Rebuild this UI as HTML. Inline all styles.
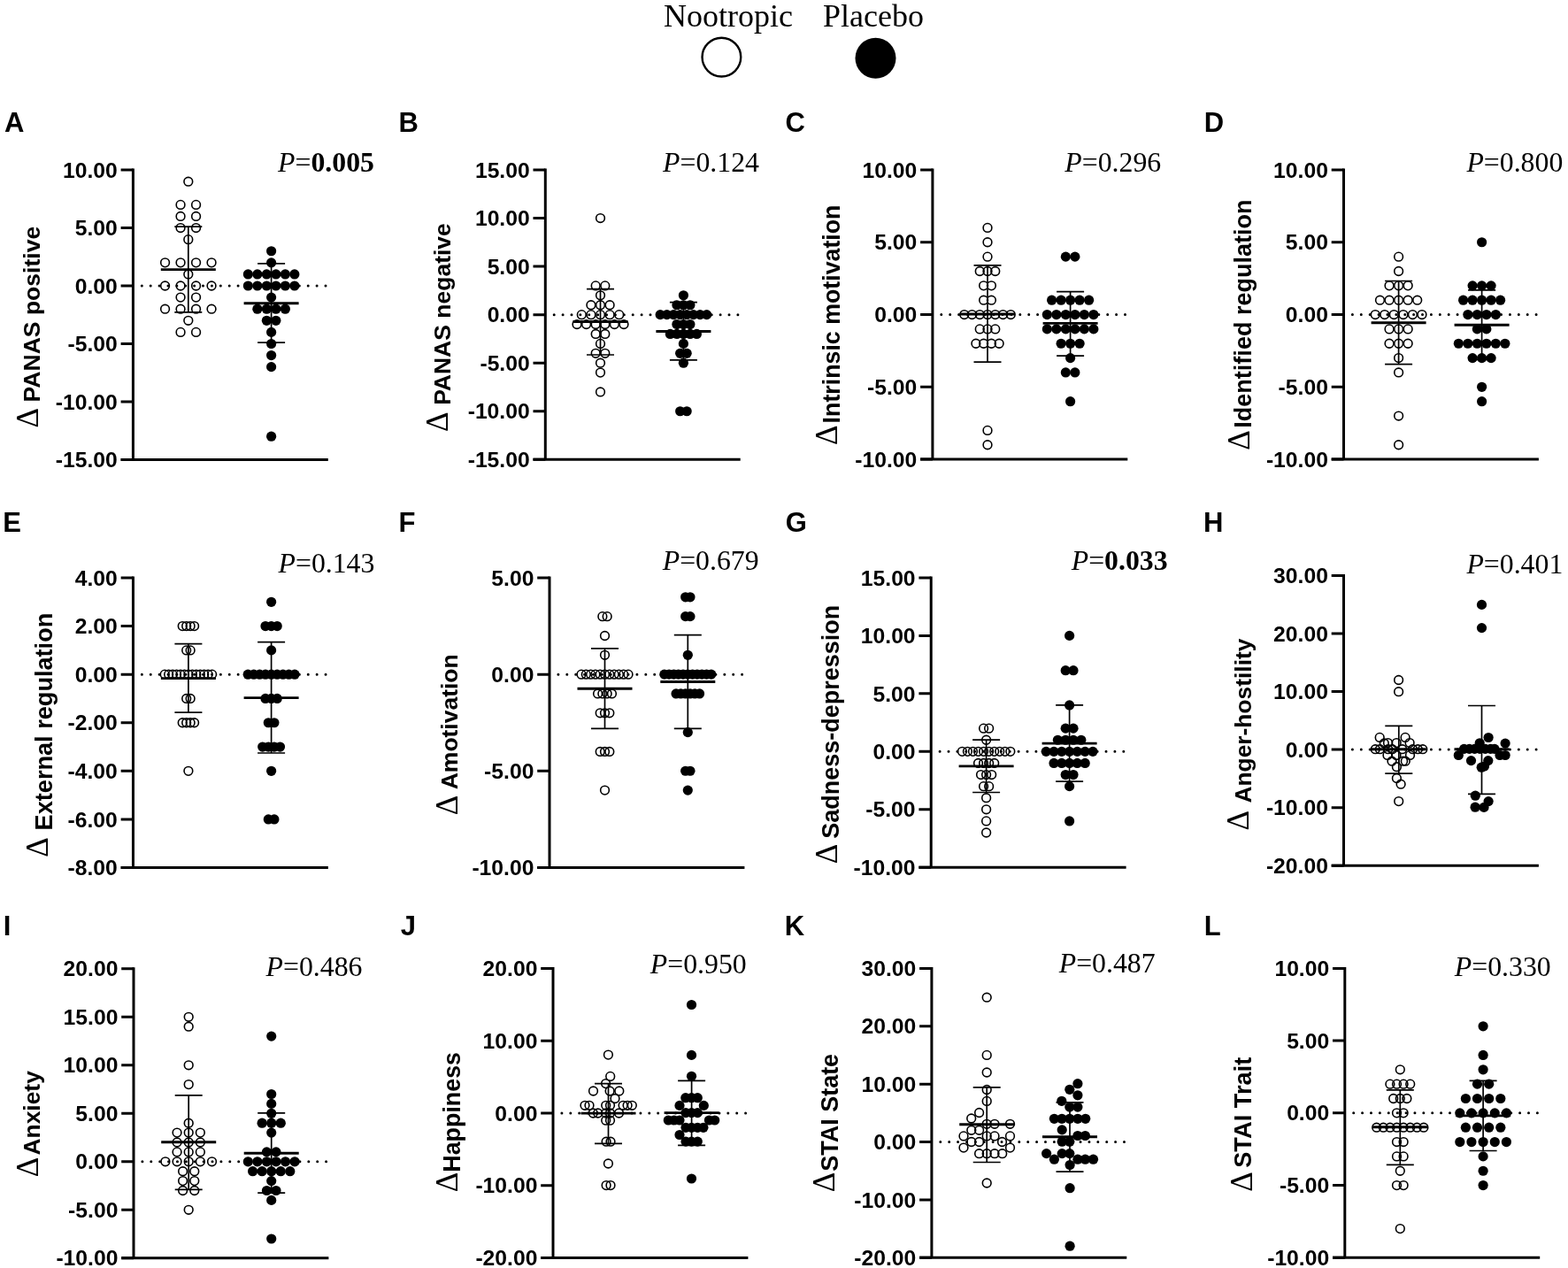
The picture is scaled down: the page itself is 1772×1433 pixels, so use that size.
<!DOCTYPE html><html><head><meta charset="utf-8"><style>html,body{margin:0;padding:0;background:#fff;}svg{display:block;}.tk{font-family:"Liberation Sans",Arial,sans-serif;font-weight:bold;font-size:24.7px;}.lt{font-family:"Liberation Sans",Arial,sans-serif;font-weight:bold;font-size:31px;}.yl{font-family:"Liberation Sans",Arial,sans-serif;font-weight:bold;font-size:27px;}.dl{font-family:"Liberation Serif","Times New Roman",serif;font-weight:normal;font-size:35px;}.pv{font-family:"Liberation Serif","Times New Roman",serif;font-size:31.8px;}.lg{font-family:"Liberation Serif","Times New Roman",serif;font-size:36px;}</style></head><body>
<svg width="1772" height="1433" viewBox="0 0 1772 1433" xmlns="http://www.w3.org/2000/svg">
<rect width="1772" height="1433" fill="#fff"/>
<text class="lg" x="750.0" y="30.1">Nootropic</text>
<text class="lg" x="930.0" y="29.7">Placebo</text>
<circle cx="815.4" cy="64.6" r="21.85" fill="#fff" stroke="#000" stroke-width="2.4"/>
<circle cx="989.5" cy="65.8" r="23" fill="#000"/>
<g>
<text class="lt" x="5.0" y="148.6">A</text>
<path d="M150.40,190.60V519.40M136.60,519.40H370.80" fill="none" stroke="#000" stroke-width="3.0" stroke-linecap="butt"/>
<path d="M136.60,192.10H150.40M136.60,257.56H150.40M136.60,323.02H150.40M136.60,388.48H150.40M136.60,453.94H150.40M136.60,519.40H150.40" stroke="#000" stroke-width="3.0"/>
<text class="tk" x="132.8" y="200.7" text-anchor="end">10.00</text>
<text class="tk" x="132.8" y="266.2" text-anchor="end">5.00</text>
<text class="tk" x="132.8" y="331.6" text-anchor="end">0.00</text>
<text class="tk" x="132.8" y="397.1" text-anchor="end">-5.00</text>
<text class="tk" x="132.8" y="462.5" text-anchor="end">-10.00</text>
<text class="tk" x="132.8" y="528.0" text-anchor="end">-15.00</text>
<line x1="160.30" y1="323.02" x2="370.80" y2="323.02" stroke="#000" stroke-width="3" stroke-linecap="round" stroke-dasharray="0 9.89"/>
<circle cx="212.80" cy="205.19" r="4.85" fill="none" stroke="#000" stroke-width="1.6"/>
<circle cx="204.05" cy="231.38" r="4.85" fill="none" stroke="#000" stroke-width="1.6"/>
<circle cx="221.55" cy="231.38" r="4.85" fill="none" stroke="#000" stroke-width="1.6"/>
<circle cx="204.05" cy="244.47" r="4.85" fill="none" stroke="#000" stroke-width="1.6"/>
<circle cx="221.55" cy="244.47" r="4.85" fill="none" stroke="#000" stroke-width="1.6"/>
<circle cx="204.05" cy="257.56" r="4.85" fill="none" stroke="#000" stroke-width="1.6"/>
<circle cx="221.55" cy="257.56" r="4.85" fill="none" stroke="#000" stroke-width="1.6"/>
<circle cx="212.80" cy="270.65" r="4.85" fill="none" stroke="#000" stroke-width="1.6"/>
<circle cx="186.55" cy="296.84" r="4.85" fill="none" stroke="#000" stroke-width="1.6"/>
<circle cx="204.05" cy="296.84" r="4.85" fill="none" stroke="#000" stroke-width="1.6"/>
<circle cx="221.55" cy="296.84" r="4.85" fill="none" stroke="#000" stroke-width="1.6"/>
<circle cx="239.05" cy="296.84" r="4.85" fill="none" stroke="#000" stroke-width="1.6"/>
<circle cx="212.80" cy="309.93" r="4.85" fill="none" stroke="#000" stroke-width="1.6"/>
<circle cx="186.55" cy="323.02" r="4.85" fill="none" stroke="#000" stroke-width="1.6"/>
<circle cx="204.05" cy="323.02" r="4.85" fill="none" stroke="#000" stroke-width="1.6"/>
<circle cx="221.55" cy="323.02" r="4.85" fill="none" stroke="#000" stroke-width="1.6"/>
<circle cx="239.05" cy="323.02" r="4.85" fill="none" stroke="#000" stroke-width="1.6"/>
<circle cx="204.05" cy="336.11" r="4.85" fill="none" stroke="#000" stroke-width="1.6"/>
<circle cx="221.55" cy="336.11" r="4.85" fill="none" stroke="#000" stroke-width="1.6"/>
<circle cx="186.55" cy="349.20" r="4.85" fill="none" stroke="#000" stroke-width="1.6"/>
<circle cx="204.05" cy="349.20" r="4.85" fill="none" stroke="#000" stroke-width="1.6"/>
<circle cx="221.55" cy="349.20" r="4.85" fill="none" stroke="#000" stroke-width="1.6"/>
<circle cx="239.05" cy="349.20" r="4.85" fill="none" stroke="#000" stroke-width="1.6"/>
<circle cx="212.80" cy="362.30" r="4.85" fill="none" stroke="#000" stroke-width="1.6"/>
<circle cx="204.05" cy="375.39" r="4.85" fill="none" stroke="#000" stroke-width="1.6"/>
<circle cx="221.55" cy="375.39" r="4.85" fill="none" stroke="#000" stroke-width="1.6"/>
<path d="M212.80,256.10V352.80M197.30,256.10h31.0M197.30,352.80h31.0" stroke="#000" stroke-width="1.7" fill="none"/>
<path d="M181.80,304.60h62.0" stroke="#000" stroke-width="2.9"/>
<circle cx="306.60" cy="283.74" r="5.6" fill="#000"/>
<circle cx="306.60" cy="296.84" r="5.6" fill="#000"/>
<circle cx="280.35" cy="309.93" r="5.6" fill="#000"/>
<circle cx="290.85" cy="309.93" r="5.6" fill="#000"/>
<circle cx="301.35" cy="309.93" r="5.6" fill="#000"/>
<circle cx="311.85" cy="309.93" r="5.6" fill="#000"/>
<circle cx="322.35" cy="309.93" r="5.6" fill="#000"/>
<circle cx="332.85" cy="309.93" r="5.6" fill="#000"/>
<circle cx="280.35" cy="323.02" r="5.6" fill="#000"/>
<circle cx="290.85" cy="323.02" r="5.6" fill="#000"/>
<circle cx="301.35" cy="323.02" r="5.6" fill="#000"/>
<circle cx="311.85" cy="323.02" r="5.6" fill="#000"/>
<circle cx="322.35" cy="323.02" r="5.6" fill="#000"/>
<circle cx="332.85" cy="323.02" r="5.6" fill="#000"/>
<circle cx="306.60" cy="336.11" r="5.6" fill="#000"/>
<circle cx="290.85" cy="349.20" r="5.6" fill="#000"/>
<circle cx="301.35" cy="349.20" r="5.6" fill="#000"/>
<circle cx="311.85" cy="349.20" r="5.6" fill="#000"/>
<circle cx="322.35" cy="349.20" r="5.6" fill="#000"/>
<circle cx="301.35" cy="362.30" r="5.6" fill="#000"/>
<circle cx="311.85" cy="362.30" r="5.6" fill="#000"/>
<circle cx="306.60" cy="375.39" r="5.6" fill="#000"/>
<circle cx="306.60" cy="388.48" r="5.6" fill="#000"/>
<circle cx="306.60" cy="401.57" r="5.6" fill="#000"/>
<circle cx="306.60" cy="414.66" r="5.6" fill="#000"/>
<circle cx="306.60" cy="493.22" r="5.6" fill="#000"/>
<path d="M306.60,297.80V387.20M291.10,297.80h31.0M291.10,387.20h31.0" stroke="#000" stroke-width="1.7" fill="none"/>
<path d="M275.60,342.70h62.0" stroke="#000" stroke-width="2.9"/>
<text class="dl" transform="translate(42.6,483.43) rotate(-90)">Δ</text>
<text class="yl" style="font-size:26.54px" transform="translate(44.9,454.38) rotate(-90)">PANAS positive</text>
<text class="pv" x="314.1" y="193.7"><tspan font-style="italic">P</tspan>=<tspan font-weight="bold">0.005</tspan></text>
</g>
<g>
<text class="lt" x="450.6" y="148.6">B</text>
<path d="M616.30,190.50V519.30M602.50,519.30H836.70" fill="none" stroke="#000" stroke-width="3.0" stroke-linecap="butt"/>
<path d="M602.50,192.00H616.30M602.50,246.55H616.30M602.50,301.10H616.30M602.50,355.65H616.30M602.50,410.20H616.30M602.50,464.75H616.30M602.50,519.30H616.30" stroke="#000" stroke-width="3.0"/>
<text class="tk" x="598.7" y="200.6" text-anchor="end">15.00</text>
<text class="tk" x="598.7" y="255.1" text-anchor="end">10.00</text>
<text class="tk" x="598.7" y="309.7" text-anchor="end">5.00</text>
<text class="tk" x="598.7" y="364.2" text-anchor="end">0.00</text>
<text class="tk" x="598.7" y="418.8" text-anchor="end">-5.00</text>
<text class="tk" x="598.7" y="473.3" text-anchor="end">-10.00</text>
<text class="tk" x="598.7" y="527.9" text-anchor="end">-15.00</text>
<line x1="626.20" y1="355.65" x2="836.70" y2="355.65" stroke="#000" stroke-width="3" stroke-linecap="round" stroke-dasharray="0 9.89"/>
<circle cx="678.50" cy="246.55" r="4.85" fill="none" stroke="#000" stroke-width="1.6"/>
<circle cx="673.20" cy="322.92" r="4.85" fill="none" stroke="#000" stroke-width="1.6"/>
<circle cx="683.80" cy="322.92" r="4.85" fill="none" stroke="#000" stroke-width="1.6"/>
<circle cx="678.50" cy="333.83" r="4.85" fill="none" stroke="#000" stroke-width="1.6"/>
<circle cx="667.90" cy="344.74" r="4.85" fill="none" stroke="#000" stroke-width="1.6"/>
<circle cx="678.50" cy="344.74" r="4.85" fill="none" stroke="#000" stroke-width="1.6"/>
<circle cx="689.10" cy="344.74" r="4.85" fill="none" stroke="#000" stroke-width="1.6"/>
<circle cx="657.30" cy="355.65" r="4.85" fill="none" stroke="#000" stroke-width="1.6"/>
<circle cx="667.90" cy="355.65" r="4.85" fill="none" stroke="#000" stroke-width="1.6"/>
<circle cx="678.50" cy="355.65" r="4.85" fill="none" stroke="#000" stroke-width="1.6"/>
<circle cx="689.10" cy="355.65" r="4.85" fill="none" stroke="#000" stroke-width="1.6"/>
<circle cx="699.70" cy="355.65" r="4.85" fill="none" stroke="#000" stroke-width="1.6"/>
<circle cx="652.00" cy="366.56" r="4.85" fill="none" stroke="#000" stroke-width="1.6"/>
<circle cx="662.60" cy="366.56" r="4.85" fill="none" stroke="#000" stroke-width="1.6"/>
<circle cx="673.20" cy="366.56" r="4.85" fill="none" stroke="#000" stroke-width="1.6"/>
<circle cx="683.80" cy="366.56" r="4.85" fill="none" stroke="#000" stroke-width="1.6"/>
<circle cx="694.40" cy="366.56" r="4.85" fill="none" stroke="#000" stroke-width="1.6"/>
<circle cx="705.00" cy="366.56" r="4.85" fill="none" stroke="#000" stroke-width="1.6"/>
<circle cx="673.20" cy="377.47" r="4.85" fill="none" stroke="#000" stroke-width="1.6"/>
<circle cx="683.80" cy="377.47" r="4.85" fill="none" stroke="#000" stroke-width="1.6"/>
<circle cx="678.50" cy="388.38" r="4.85" fill="none" stroke="#000" stroke-width="1.6"/>
<circle cx="673.20" cy="399.29" r="4.85" fill="none" stroke="#000" stroke-width="1.6"/>
<circle cx="683.80" cy="399.29" r="4.85" fill="none" stroke="#000" stroke-width="1.6"/>
<circle cx="678.50" cy="410.20" r="4.85" fill="none" stroke="#000" stroke-width="1.6"/>
<circle cx="678.50" cy="421.11" r="4.85" fill="none" stroke="#000" stroke-width="1.6"/>
<circle cx="678.50" cy="442.93" r="4.85" fill="none" stroke="#000" stroke-width="1.6"/>
<path d="M678.50,326.70V401.00M663.00,326.70h31.0M663.00,401.00h31.0" stroke="#000" stroke-width="1.7" fill="none"/>
<path d="M647.50,363.50h62.0" stroke="#000" stroke-width="2.9"/>
<circle cx="772.40" cy="333.83" r="5.6" fill="#000"/>
<circle cx="764.90" cy="344.74" r="5.6" fill="#000"/>
<circle cx="772.40" cy="344.74" r="5.6" fill="#000"/>
<circle cx="779.90" cy="344.74" r="5.6" fill="#000"/>
<circle cx="746.15" cy="355.65" r="5.6" fill="#000"/>
<circle cx="753.65" cy="355.65" r="5.6" fill="#000"/>
<circle cx="761.15" cy="355.65" r="5.6" fill="#000"/>
<circle cx="768.65" cy="355.65" r="5.6" fill="#000"/>
<circle cx="776.15" cy="355.65" r="5.6" fill="#000"/>
<circle cx="783.65" cy="355.65" r="5.6" fill="#000"/>
<circle cx="791.15" cy="355.65" r="5.6" fill="#000"/>
<circle cx="798.65" cy="355.65" r="5.6" fill="#000"/>
<circle cx="764.90" cy="366.56" r="5.6" fill="#000"/>
<circle cx="772.40" cy="366.56" r="5.6" fill="#000"/>
<circle cx="779.90" cy="366.56" r="5.6" fill="#000"/>
<circle cx="757.40" cy="377.47" r="5.6" fill="#000"/>
<circle cx="764.90" cy="377.47" r="5.6" fill="#000"/>
<circle cx="772.40" cy="377.47" r="5.6" fill="#000"/>
<circle cx="779.90" cy="377.47" r="5.6" fill="#000"/>
<circle cx="787.40" cy="377.47" r="5.6" fill="#000"/>
<circle cx="772.40" cy="388.38" r="5.6" fill="#000"/>
<circle cx="768.65" cy="399.29" r="5.6" fill="#000"/>
<circle cx="776.15" cy="399.29" r="5.6" fill="#000"/>
<circle cx="772.40" cy="410.20" r="5.6" fill="#000"/>
<circle cx="768.65" cy="464.75" r="5.6" fill="#000"/>
<circle cx="776.15" cy="464.75" r="5.6" fill="#000"/>
<path d="M772.40,341.70V406.80M756.90,341.70h31.0M756.90,406.80h31.0" stroke="#000" stroke-width="1.7" fill="none"/>
<path d="M741.40,374.50h62.0" stroke="#000" stroke-width="2.9"/>
<text class="dl" transform="translate(506.4,488.03) rotate(-90)">Δ</text>
<text class="yl" style="font-size:26.51px" transform="translate(509.0,457.87) rotate(-90)">PANAS negative</text>
<text class="pv" x="749.1" y="193.6"><tspan font-style="italic">P</tspan>=<tspan>0.124</tspan></text>
</g>
<g>
<text class="lt" x="887.5" y="148.6">C</text>
<path d="M1053.90,190.50V519.10M1040.10,519.10H1274.30" fill="none" stroke="#000" stroke-width="3.0" stroke-linecap="butt"/>
<path d="M1040.10,192.00H1053.90M1040.10,273.77H1053.90M1040.10,355.55H1053.90M1040.10,437.33H1053.90M1040.10,519.10H1053.90" stroke="#000" stroke-width="3.0"/>
<text class="tk" x="1036.3" y="200.6" text-anchor="end">10.00</text>
<text class="tk" x="1036.3" y="282.4" text-anchor="end">5.00</text>
<text class="tk" x="1036.3" y="364.2" text-anchor="end">0.00</text>
<text class="tk" x="1036.3" y="445.9" text-anchor="end">-5.00</text>
<text class="tk" x="1036.3" y="527.7" text-anchor="end">-10.00</text>
<line x1="1063.80" y1="355.55" x2="1274.30" y2="355.55" stroke="#000" stroke-width="3" stroke-linecap="round" stroke-dasharray="0 9.89"/>
<circle cx="1116.00" cy="257.42" r="4.85" fill="none" stroke="#000" stroke-width="1.6"/>
<circle cx="1116.00" cy="273.77" r="4.85" fill="none" stroke="#000" stroke-width="1.6"/>
<circle cx="1116.00" cy="290.13" r="4.85" fill="none" stroke="#000" stroke-width="1.6"/>
<circle cx="1107.25" cy="306.49" r="4.85" fill="none" stroke="#000" stroke-width="1.6"/>
<circle cx="1116.00" cy="306.49" r="4.85" fill="none" stroke="#000" stroke-width="1.6"/>
<circle cx="1124.75" cy="306.49" r="4.85" fill="none" stroke="#000" stroke-width="1.6"/>
<circle cx="1111.62" cy="322.84" r="4.85" fill="none" stroke="#000" stroke-width="1.6"/>
<circle cx="1120.38" cy="322.84" r="4.85" fill="none" stroke="#000" stroke-width="1.6"/>
<circle cx="1111.62" cy="339.19" r="4.85" fill="none" stroke="#000" stroke-width="1.6"/>
<circle cx="1120.38" cy="339.19" r="4.85" fill="none" stroke="#000" stroke-width="1.6"/>
<circle cx="1089.75" cy="355.55" r="4.85" fill="none" stroke="#000" stroke-width="1.6"/>
<circle cx="1098.50" cy="355.55" r="4.85" fill="none" stroke="#000" stroke-width="1.6"/>
<circle cx="1107.25" cy="355.55" r="4.85" fill="none" stroke="#000" stroke-width="1.6"/>
<circle cx="1116.00" cy="355.55" r="4.85" fill="none" stroke="#000" stroke-width="1.6"/>
<circle cx="1124.75" cy="355.55" r="4.85" fill="none" stroke="#000" stroke-width="1.6"/>
<circle cx="1133.50" cy="355.55" r="4.85" fill="none" stroke="#000" stroke-width="1.6"/>
<circle cx="1142.25" cy="355.55" r="4.85" fill="none" stroke="#000" stroke-width="1.6"/>
<circle cx="1107.25" cy="371.90" r="4.85" fill="none" stroke="#000" stroke-width="1.6"/>
<circle cx="1116.00" cy="371.90" r="4.85" fill="none" stroke="#000" stroke-width="1.6"/>
<circle cx="1124.75" cy="371.90" r="4.85" fill="none" stroke="#000" stroke-width="1.6"/>
<circle cx="1102.88" cy="388.26" r="4.85" fill="none" stroke="#000" stroke-width="1.6"/>
<circle cx="1111.62" cy="388.26" r="4.85" fill="none" stroke="#000" stroke-width="1.6"/>
<circle cx="1120.38" cy="388.26" r="4.85" fill="none" stroke="#000" stroke-width="1.6"/>
<circle cx="1129.12" cy="388.26" r="4.85" fill="none" stroke="#000" stroke-width="1.6"/>
<circle cx="1116.00" cy="486.39" r="4.85" fill="none" stroke="#000" stroke-width="1.6"/>
<circle cx="1116.00" cy="502.75" r="4.85" fill="none" stroke="#000" stroke-width="1.6"/>
<path d="M1116.00,299.90V409.10M1100.50,299.90h31.0M1100.50,409.10h31.0" stroke="#000" stroke-width="1.7" fill="none"/>
<path d="M1085.00,355.00h62.0" stroke="#000" stroke-width="2.9"/>
<circle cx="1204.35" cy="290.13" r="5.6" fill="#000"/>
<circle cx="1214.85" cy="290.13" r="5.6" fill="#000"/>
<circle cx="1188.60" cy="339.19" r="5.6" fill="#000"/>
<circle cx="1199.10" cy="339.19" r="5.6" fill="#000"/>
<circle cx="1209.60" cy="339.19" r="5.6" fill="#000"/>
<circle cx="1220.10" cy="339.19" r="5.6" fill="#000"/>
<circle cx="1230.60" cy="339.19" r="5.6" fill="#000"/>
<circle cx="1183.35" cy="355.55" r="5.6" fill="#000"/>
<circle cx="1193.85" cy="355.55" r="5.6" fill="#000"/>
<circle cx="1204.35" cy="355.55" r="5.6" fill="#000"/>
<circle cx="1214.85" cy="355.55" r="5.6" fill="#000"/>
<circle cx="1225.35" cy="355.55" r="5.6" fill="#000"/>
<circle cx="1235.85" cy="355.55" r="5.6" fill="#000"/>
<circle cx="1183.35" cy="371.90" r="5.6" fill="#000"/>
<circle cx="1193.85" cy="371.90" r="5.6" fill="#000"/>
<circle cx="1204.35" cy="371.90" r="5.6" fill="#000"/>
<circle cx="1214.85" cy="371.90" r="5.6" fill="#000"/>
<circle cx="1225.35" cy="371.90" r="5.6" fill="#000"/>
<circle cx="1235.85" cy="371.90" r="5.6" fill="#000"/>
<circle cx="1199.10" cy="388.26" r="5.6" fill="#000"/>
<circle cx="1209.60" cy="388.26" r="5.6" fill="#000"/>
<circle cx="1220.10" cy="388.26" r="5.6" fill="#000"/>
<circle cx="1209.60" cy="404.62" r="5.6" fill="#000"/>
<circle cx="1204.35" cy="420.97" r="5.6" fill="#000"/>
<circle cx="1214.85" cy="420.97" r="5.6" fill="#000"/>
<circle cx="1209.60" cy="453.68" r="5.6" fill="#000"/>
<path d="M1209.60,329.70V402.10M1194.10,329.70h31.0M1194.10,402.10h31.0" stroke="#000" stroke-width="1.7" fill="none"/>
<path d="M1178.60,365.40h62.0" stroke="#000" stroke-width="2.9"/>
<text class="dl" transform="translate(946.3,502.93) rotate(-90)">Δ</text>
<text class="yl" style="font-size:26.77px" transform="translate(948.7,478.39) rotate(-90)">Intrinsic motivation</text>
<text class="pv" x="1203.3" y="193.7"><tspan font-style="italic">P</tspan>=<tspan>0.296</tspan></text>
</g>
<g>
<text class="lt" x="1360.7" y="148.6">D</text>
<path d="M1518.50,190.50V519.10M1504.70,519.10H1738.90" fill="none" stroke="#000" stroke-width="3.0" stroke-linecap="butt"/>
<path d="M1504.70,192.00H1518.50M1504.70,273.77H1518.50M1504.70,355.55H1518.50M1504.70,437.33H1518.50M1504.70,519.10H1518.50" stroke="#000" stroke-width="3.0"/>
<text class="tk" x="1500.9" y="200.6" text-anchor="end">10.00</text>
<text class="tk" x="1500.9" y="282.4" text-anchor="end">5.00</text>
<text class="tk" x="1500.9" y="364.2" text-anchor="end">0.00</text>
<text class="tk" x="1500.9" y="445.9" text-anchor="end">-5.00</text>
<text class="tk" x="1500.9" y="527.7" text-anchor="end">-10.00</text>
<line x1="1528.40" y1="355.55" x2="1738.90" y2="355.55" stroke="#000" stroke-width="3" stroke-linecap="round" stroke-dasharray="0 9.89"/>
<circle cx="1580.60" cy="290.13" r="4.85" fill="none" stroke="#000" stroke-width="1.6"/>
<circle cx="1580.60" cy="306.49" r="4.85" fill="none" stroke="#000" stroke-width="1.6"/>
<circle cx="1570.05" cy="322.84" r="4.85" fill="none" stroke="#000" stroke-width="1.6"/>
<circle cx="1580.60" cy="322.84" r="4.85" fill="none" stroke="#000" stroke-width="1.6"/>
<circle cx="1591.15" cy="322.84" r="4.85" fill="none" stroke="#000" stroke-width="1.6"/>
<circle cx="1559.50" cy="339.19" r="4.85" fill="none" stroke="#000" stroke-width="1.6"/>
<circle cx="1570.05" cy="339.19" r="4.85" fill="none" stroke="#000" stroke-width="1.6"/>
<circle cx="1580.60" cy="339.19" r="4.85" fill="none" stroke="#000" stroke-width="1.6"/>
<circle cx="1591.15" cy="339.19" r="4.85" fill="none" stroke="#000" stroke-width="1.6"/>
<circle cx="1601.70" cy="339.19" r="4.85" fill="none" stroke="#000" stroke-width="1.6"/>
<circle cx="1554.22" cy="355.55" r="4.85" fill="none" stroke="#000" stroke-width="1.6"/>
<circle cx="1564.77" cy="355.55" r="4.85" fill="none" stroke="#000" stroke-width="1.6"/>
<circle cx="1575.32" cy="355.55" r="4.85" fill="none" stroke="#000" stroke-width="1.6"/>
<circle cx="1585.88" cy="355.55" r="4.85" fill="none" stroke="#000" stroke-width="1.6"/>
<circle cx="1596.42" cy="355.55" r="4.85" fill="none" stroke="#000" stroke-width="1.6"/>
<circle cx="1606.97" cy="355.55" r="4.85" fill="none" stroke="#000" stroke-width="1.6"/>
<circle cx="1570.05" cy="371.90" r="4.85" fill="none" stroke="#000" stroke-width="1.6"/>
<circle cx="1580.60" cy="371.90" r="4.85" fill="none" stroke="#000" stroke-width="1.6"/>
<circle cx="1591.15" cy="371.90" r="4.85" fill="none" stroke="#000" stroke-width="1.6"/>
<circle cx="1570.05" cy="388.26" r="4.85" fill="none" stroke="#000" stroke-width="1.6"/>
<circle cx="1580.60" cy="388.26" r="4.85" fill="none" stroke="#000" stroke-width="1.6"/>
<circle cx="1591.15" cy="388.26" r="4.85" fill="none" stroke="#000" stroke-width="1.6"/>
<circle cx="1580.60" cy="404.62" r="4.85" fill="none" stroke="#000" stroke-width="1.6"/>
<circle cx="1580.60" cy="420.97" r="4.85" fill="none" stroke="#000" stroke-width="1.6"/>
<circle cx="1580.60" cy="470.04" r="4.85" fill="none" stroke="#000" stroke-width="1.6"/>
<circle cx="1580.60" cy="502.75" r="4.85" fill="none" stroke="#000" stroke-width="1.6"/>
<path d="M1580.60,317.50V411.60M1565.10,317.50h31.0M1565.10,411.60h31.0" stroke="#000" stroke-width="1.7" fill="none"/>
<path d="M1549.60,364.80h62.0" stroke="#000" stroke-width="2.9"/>
<circle cx="1674.60" cy="273.77" r="5.6" fill="#000"/>
<circle cx="1664.10" cy="322.84" r="5.6" fill="#000"/>
<circle cx="1674.60" cy="322.84" r="5.6" fill="#000"/>
<circle cx="1685.10" cy="322.84" r="5.6" fill="#000"/>
<circle cx="1653.60" cy="339.19" r="5.6" fill="#000"/>
<circle cx="1664.10" cy="339.19" r="5.6" fill="#000"/>
<circle cx="1674.60" cy="339.19" r="5.6" fill="#000"/>
<circle cx="1685.10" cy="339.19" r="5.6" fill="#000"/>
<circle cx="1695.60" cy="339.19" r="5.6" fill="#000"/>
<circle cx="1658.85" cy="355.55" r="5.6" fill="#000"/>
<circle cx="1669.35" cy="355.55" r="5.6" fill="#000"/>
<circle cx="1679.85" cy="355.55" r="5.6" fill="#000"/>
<circle cx="1690.35" cy="355.55" r="5.6" fill="#000"/>
<circle cx="1669.35" cy="371.90" r="5.6" fill="#000"/>
<circle cx="1679.85" cy="371.90" r="5.6" fill="#000"/>
<circle cx="1648.35" cy="388.26" r="5.6" fill="#000"/>
<circle cx="1658.85" cy="388.26" r="5.6" fill="#000"/>
<circle cx="1669.35" cy="388.26" r="5.6" fill="#000"/>
<circle cx="1679.85" cy="388.26" r="5.6" fill="#000"/>
<circle cx="1690.35" cy="388.26" r="5.6" fill="#000"/>
<circle cx="1700.85" cy="388.26" r="5.6" fill="#000"/>
<circle cx="1664.10" cy="404.62" r="5.6" fill="#000"/>
<circle cx="1674.60" cy="404.62" r="5.6" fill="#000"/>
<circle cx="1685.10" cy="404.62" r="5.6" fill="#000"/>
<circle cx="1674.60" cy="437.33" r="5.6" fill="#000"/>
<circle cx="1674.60" cy="453.68" r="5.6" fill="#000"/>
<path d="M1674.60,327.90V406.50M1659.10,327.90h31.0M1659.10,406.50h31.0" stroke="#000" stroke-width="1.7" fill="none"/>
<path d="M1643.60,367.20h62.0" stroke="#000" stroke-width="2.9"/>
<text class="dl" transform="translate(1412.2,508.83) rotate(-90)">Δ</text>
<text class="yl" style="font-size:27.04px" transform="translate(1414.0,483.71) rotate(-90)">Identified regulation</text>
<text class="pv" x="1657.4" y="193.7"><tspan font-style="italic">P</tspan>=<tspan>0.800</tspan></text>
</g>
<g>
<text class="lt" x="3.3" y="600.6">E</text>
<path d="M150.45,651.50V980.50M136.65,980.50H370.85" fill="none" stroke="#000" stroke-width="3.0" stroke-linecap="butt"/>
<path d="M136.65,653.00H150.45M136.65,707.58H150.45M136.65,762.17H150.45M136.65,816.75H150.45M136.65,871.33H150.45M136.65,925.92H150.45M136.65,980.50H150.45" stroke="#000" stroke-width="3.0"/>
<text class="tk" x="132.8" y="661.6" text-anchor="end">4.00</text>
<text class="tk" x="132.8" y="716.2" text-anchor="end">2.00</text>
<text class="tk" x="132.8" y="770.8" text-anchor="end">0.00</text>
<text class="tk" x="132.8" y="825.4" text-anchor="end">-2.00</text>
<text class="tk" x="132.8" y="879.9" text-anchor="end">-4.00</text>
<text class="tk" x="132.8" y="934.5" text-anchor="end">-6.00</text>
<text class="tk" x="132.8" y="989.1" text-anchor="end">-8.00</text>
<line x1="160.35" y1="762.17" x2="370.85" y2="762.17" stroke="#000" stroke-width="3" stroke-linecap="round" stroke-dasharray="0 9.89"/>
<circle cx="206.22" cy="707.58" r="4.85" fill="none" stroke="#000" stroke-width="1.6"/>
<circle cx="210.68" cy="707.58" r="4.85" fill="none" stroke="#000" stroke-width="1.6"/>
<circle cx="215.12" cy="707.58" r="4.85" fill="none" stroke="#000" stroke-width="1.6"/>
<circle cx="219.58" cy="707.58" r="4.85" fill="none" stroke="#000" stroke-width="1.6"/>
<circle cx="210.68" cy="734.88" r="4.85" fill="none" stroke="#000" stroke-width="1.6"/>
<circle cx="215.12" cy="734.88" r="4.85" fill="none" stroke="#000" stroke-width="1.6"/>
<circle cx="186.20" cy="762.17" r="4.85" fill="none" stroke="#000" stroke-width="1.6"/>
<circle cx="190.65" cy="762.17" r="4.85" fill="none" stroke="#000" stroke-width="1.6"/>
<circle cx="195.10" cy="762.17" r="4.85" fill="none" stroke="#000" stroke-width="1.6"/>
<circle cx="199.55" cy="762.17" r="4.85" fill="none" stroke="#000" stroke-width="1.6"/>
<circle cx="204.00" cy="762.17" r="4.85" fill="none" stroke="#000" stroke-width="1.6"/>
<circle cx="208.45" cy="762.17" r="4.85" fill="none" stroke="#000" stroke-width="1.6"/>
<circle cx="212.90" cy="762.17" r="4.85" fill="none" stroke="#000" stroke-width="1.6"/>
<circle cx="217.35" cy="762.17" r="4.85" fill="none" stroke="#000" stroke-width="1.6"/>
<circle cx="221.80" cy="762.17" r="4.85" fill="none" stroke="#000" stroke-width="1.6"/>
<circle cx="226.25" cy="762.17" r="4.85" fill="none" stroke="#000" stroke-width="1.6"/>
<circle cx="230.70" cy="762.17" r="4.85" fill="none" stroke="#000" stroke-width="1.6"/>
<circle cx="235.15" cy="762.17" r="4.85" fill="none" stroke="#000" stroke-width="1.6"/>
<circle cx="239.60" cy="762.17" r="4.85" fill="none" stroke="#000" stroke-width="1.6"/>
<circle cx="210.68" cy="789.46" r="4.85" fill="none" stroke="#000" stroke-width="1.6"/>
<circle cx="215.12" cy="789.46" r="4.85" fill="none" stroke="#000" stroke-width="1.6"/>
<circle cx="206.22" cy="816.75" r="4.85" fill="none" stroke="#000" stroke-width="1.6"/>
<circle cx="210.68" cy="816.75" r="4.85" fill="none" stroke="#000" stroke-width="1.6"/>
<circle cx="215.12" cy="816.75" r="4.85" fill="none" stroke="#000" stroke-width="1.6"/>
<circle cx="219.58" cy="816.75" r="4.85" fill="none" stroke="#000" stroke-width="1.6"/>
<circle cx="212.90" cy="871.33" r="4.85" fill="none" stroke="#000" stroke-width="1.6"/>
<path d="M212.90,727.60V805.20M197.40,727.60h31.0M197.40,805.20h31.0" stroke="#000" stroke-width="1.7" fill="none"/>
<path d="M181.90,766.60h62.0" stroke="#000" stroke-width="2.9"/>
<circle cx="306.60" cy="680.29" r="5.6" fill="#000"/>
<circle cx="300.00" cy="707.58" r="5.6" fill="#000"/>
<circle cx="306.60" cy="707.58" r="5.6" fill="#000"/>
<circle cx="313.20" cy="707.58" r="5.6" fill="#000"/>
<circle cx="306.60" cy="734.88" r="5.6" fill="#000"/>
<circle cx="280.20" cy="762.17" r="5.6" fill="#000"/>
<circle cx="286.80" cy="762.17" r="5.6" fill="#000"/>
<circle cx="293.40" cy="762.17" r="5.6" fill="#000"/>
<circle cx="300.00" cy="762.17" r="5.6" fill="#000"/>
<circle cx="306.60" cy="762.17" r="5.6" fill="#000"/>
<circle cx="313.20" cy="762.17" r="5.6" fill="#000"/>
<circle cx="319.80" cy="762.17" r="5.6" fill="#000"/>
<circle cx="326.40" cy="762.17" r="5.6" fill="#000"/>
<circle cx="333.00" cy="762.17" r="5.6" fill="#000"/>
<circle cx="300.00" cy="789.46" r="5.6" fill="#000"/>
<circle cx="306.60" cy="789.46" r="5.6" fill="#000"/>
<circle cx="313.20" cy="789.46" r="5.6" fill="#000"/>
<circle cx="303.30" cy="816.75" r="5.6" fill="#000"/>
<circle cx="309.90" cy="816.75" r="5.6" fill="#000"/>
<circle cx="296.70" cy="844.04" r="5.6" fill="#000"/>
<circle cx="303.30" cy="844.04" r="5.6" fill="#000"/>
<circle cx="309.90" cy="844.04" r="5.6" fill="#000"/>
<circle cx="316.50" cy="844.04" r="5.6" fill="#000"/>
<circle cx="306.60" cy="871.33" r="5.6" fill="#000"/>
<circle cx="303.30" cy="925.92" r="5.6" fill="#000"/>
<circle cx="309.90" cy="925.92" r="5.6" fill="#000"/>
<path d="M306.60,725.60V851.00M291.10,725.60h31.0M291.10,851.00h31.0" stroke="#000" stroke-width="1.7" fill="none"/>
<path d="M275.60,788.60h62.0" stroke="#000" stroke-width="2.9"/>
<text class="dl" transform="translate(54.3,968.83) rotate(-90)">Δ</text>
<text class="yl" style="font-size:27.13px" transform="translate(58.7,938.41) rotate(-90)">External regulation</text>
<text class="pv" x="314.5" y="646.7"><tspan font-style="italic">P</tspan>=<tspan>0.143</tspan></text>
</g>
<g>
<text class="lt" x="450.5" y="600.6">F</text>
<path d="M621.00,651.50V980.40M607.20,980.40H841.40" fill="none" stroke="#000" stroke-width="3.0" stroke-linecap="butt"/>
<path d="M607.20,653.00H621.00M607.20,762.13H621.00M607.20,871.27H621.00M607.20,980.40H621.00" stroke="#000" stroke-width="3.0"/>
<text class="tk" x="603.4" y="661.6" text-anchor="end">5.00</text>
<text class="tk" x="603.4" y="770.7" text-anchor="end">0.00</text>
<text class="tk" x="603.4" y="879.9" text-anchor="end">-5.00</text>
<text class="tk" x="603.4" y="989.0" text-anchor="end">-10.00</text>
<line x1="630.90" y1="762.13" x2="841.40" y2="762.13" stroke="#000" stroke-width="3" stroke-linecap="round" stroke-dasharray="0 9.89"/>
<circle cx="680.85" cy="696.65" r="4.85" fill="none" stroke="#000" stroke-width="1.6"/>
<circle cx="686.15" cy="696.65" r="4.85" fill="none" stroke="#000" stroke-width="1.6"/>
<circle cx="683.50" cy="718.48" r="4.85" fill="none" stroke="#000" stroke-width="1.6"/>
<circle cx="683.50" cy="740.31" r="4.85" fill="none" stroke="#000" stroke-width="1.6"/>
<circle cx="657.00" cy="762.13" r="4.85" fill="none" stroke="#000" stroke-width="1.6"/>
<circle cx="662.30" cy="762.13" r="4.85" fill="none" stroke="#000" stroke-width="1.6"/>
<circle cx="667.60" cy="762.13" r="4.85" fill="none" stroke="#000" stroke-width="1.6"/>
<circle cx="672.90" cy="762.13" r="4.85" fill="none" stroke="#000" stroke-width="1.6"/>
<circle cx="678.20" cy="762.13" r="4.85" fill="none" stroke="#000" stroke-width="1.6"/>
<circle cx="683.50" cy="762.13" r="4.85" fill="none" stroke="#000" stroke-width="1.6"/>
<circle cx="688.80" cy="762.13" r="4.85" fill="none" stroke="#000" stroke-width="1.6"/>
<circle cx="694.10" cy="762.13" r="4.85" fill="none" stroke="#000" stroke-width="1.6"/>
<circle cx="699.40" cy="762.13" r="4.85" fill="none" stroke="#000" stroke-width="1.6"/>
<circle cx="704.70" cy="762.13" r="4.85" fill="none" stroke="#000" stroke-width="1.6"/>
<circle cx="710.00" cy="762.13" r="4.85" fill="none" stroke="#000" stroke-width="1.6"/>
<circle cx="675.55" cy="783.96" r="4.85" fill="none" stroke="#000" stroke-width="1.6"/>
<circle cx="680.85" cy="783.96" r="4.85" fill="none" stroke="#000" stroke-width="1.6"/>
<circle cx="686.15" cy="783.96" r="4.85" fill="none" stroke="#000" stroke-width="1.6"/>
<circle cx="691.45" cy="783.96" r="4.85" fill="none" stroke="#000" stroke-width="1.6"/>
<circle cx="678.20" cy="805.79" r="4.85" fill="none" stroke="#000" stroke-width="1.6"/>
<circle cx="683.50" cy="805.79" r="4.85" fill="none" stroke="#000" stroke-width="1.6"/>
<circle cx="688.80" cy="805.79" r="4.85" fill="none" stroke="#000" stroke-width="1.6"/>
<circle cx="678.20" cy="849.44" r="4.85" fill="none" stroke="#000" stroke-width="1.6"/>
<circle cx="683.50" cy="849.44" r="4.85" fill="none" stroke="#000" stroke-width="1.6"/>
<circle cx="688.80" cy="849.44" r="4.85" fill="none" stroke="#000" stroke-width="1.6"/>
<circle cx="683.50" cy="893.09" r="4.85" fill="none" stroke="#000" stroke-width="1.6"/>
<path d="M683.50,732.80V823.40M668.00,732.80h31.0M668.00,823.40h31.0" stroke="#000" stroke-width="1.7" fill="none"/>
<path d="M652.50,778.20h62.0" stroke="#000" stroke-width="2.9"/>
<circle cx="774.65" cy="674.83" r="5.6" fill="#000"/>
<circle cx="779.95" cy="674.83" r="5.6" fill="#000"/>
<circle cx="774.65" cy="696.65" r="5.6" fill="#000"/>
<circle cx="779.95" cy="696.65" r="5.6" fill="#000"/>
<circle cx="777.30" cy="740.31" r="5.6" fill="#000"/>
<circle cx="750.80" cy="762.13" r="5.6" fill="#000"/>
<circle cx="756.10" cy="762.13" r="5.6" fill="#000"/>
<circle cx="761.40" cy="762.13" r="5.6" fill="#000"/>
<circle cx="766.70" cy="762.13" r="5.6" fill="#000"/>
<circle cx="772.00" cy="762.13" r="5.6" fill="#000"/>
<circle cx="777.30" cy="762.13" r="5.6" fill="#000"/>
<circle cx="782.60" cy="762.13" r="5.6" fill="#000"/>
<circle cx="787.90" cy="762.13" r="5.6" fill="#000"/>
<circle cx="793.20" cy="762.13" r="5.6" fill="#000"/>
<circle cx="798.50" cy="762.13" r="5.6" fill="#000"/>
<circle cx="803.80" cy="762.13" r="5.6" fill="#000"/>
<circle cx="764.05" cy="783.96" r="5.6" fill="#000"/>
<circle cx="769.35" cy="783.96" r="5.6" fill="#000"/>
<circle cx="774.65" cy="783.96" r="5.6" fill="#000"/>
<circle cx="779.95" cy="783.96" r="5.6" fill="#000"/>
<circle cx="785.25" cy="783.96" r="5.6" fill="#000"/>
<circle cx="790.55" cy="783.96" r="5.6" fill="#000"/>
<circle cx="777.30" cy="827.61" r="5.6" fill="#000"/>
<circle cx="774.65" cy="871.27" r="5.6" fill="#000"/>
<circle cx="779.95" cy="871.27" r="5.6" fill="#000"/>
<circle cx="777.30" cy="893.09" r="5.6" fill="#000"/>
<path d="M777.30,717.60V823.40M761.80,717.60h31.0M761.80,823.40h31.0" stroke="#000" stroke-width="1.7" fill="none"/>
<path d="M746.30,770.50h62.0" stroke="#000" stroke-width="2.9"/>
<text class="dl" transform="translate(516.7,921.23) rotate(-90)">Δ</text>
<text class="yl" style="font-size:26.48px" transform="translate(516.7,892.26) rotate(-90)">Amotivation</text>
<text class="pv" x="748.7" y="643.6"><tspan font-style="italic">P</tspan>=<tspan>0.679</tspan></text>
</g>
<g>
<text class="lt" x="887.7" y="600.6">G</text>
<path d="M1052.20,651.40V980.30M1038.40,980.30H1272.60" fill="none" stroke="#000" stroke-width="3.0" stroke-linecap="butt"/>
<path d="M1038.40,652.90H1052.20M1038.40,718.38H1052.20M1038.40,783.86H1052.20M1038.40,849.34H1052.20M1038.40,914.82H1052.20M1038.40,980.30H1052.20" stroke="#000" stroke-width="3.0"/>
<text class="tk" x="1034.6" y="661.5" text-anchor="end">15.00</text>
<text class="tk" x="1034.6" y="727.0" text-anchor="end">10.00</text>
<text class="tk" x="1034.6" y="792.5" text-anchor="end">5.00</text>
<text class="tk" x="1034.6" y="857.9" text-anchor="end">0.00</text>
<text class="tk" x="1034.6" y="923.4" text-anchor="end">-5.00</text>
<text class="tk" x="1034.6" y="988.9" text-anchor="end">-10.00</text>
<line x1="1062.10" y1="849.34" x2="1272.60" y2="849.34" stroke="#000" stroke-width="3" stroke-linecap="round" stroke-dasharray="0 9.89"/>
<circle cx="1111.57" cy="823.15" r="4.85" fill="none" stroke="#000" stroke-width="1.6"/>
<circle cx="1117.62" cy="823.15" r="4.85" fill="none" stroke="#000" stroke-width="1.6"/>
<circle cx="1114.60" cy="836.24" r="4.85" fill="none" stroke="#000" stroke-width="1.6"/>
<circle cx="1087.38" cy="849.34" r="4.85" fill="none" stroke="#000" stroke-width="1.6"/>
<circle cx="1093.42" cy="849.34" r="4.85" fill="none" stroke="#000" stroke-width="1.6"/>
<circle cx="1099.47" cy="849.34" r="4.85" fill="none" stroke="#000" stroke-width="1.6"/>
<circle cx="1105.52" cy="849.34" r="4.85" fill="none" stroke="#000" stroke-width="1.6"/>
<circle cx="1111.57" cy="849.34" r="4.85" fill="none" stroke="#000" stroke-width="1.6"/>
<circle cx="1117.62" cy="849.34" r="4.85" fill="none" stroke="#000" stroke-width="1.6"/>
<circle cx="1123.67" cy="849.34" r="4.85" fill="none" stroke="#000" stroke-width="1.6"/>
<circle cx="1129.72" cy="849.34" r="4.85" fill="none" stroke="#000" stroke-width="1.6"/>
<circle cx="1135.77" cy="849.34" r="4.85" fill="none" stroke="#000" stroke-width="1.6"/>
<circle cx="1141.82" cy="849.34" r="4.85" fill="none" stroke="#000" stroke-width="1.6"/>
<circle cx="1105.52" cy="862.44" r="4.85" fill="none" stroke="#000" stroke-width="1.6"/>
<circle cx="1111.57" cy="862.44" r="4.85" fill="none" stroke="#000" stroke-width="1.6"/>
<circle cx="1117.62" cy="862.44" r="4.85" fill="none" stroke="#000" stroke-width="1.6"/>
<circle cx="1123.67" cy="862.44" r="4.85" fill="none" stroke="#000" stroke-width="1.6"/>
<circle cx="1108.55" cy="875.53" r="4.85" fill="none" stroke="#000" stroke-width="1.6"/>
<circle cx="1114.60" cy="875.53" r="4.85" fill="none" stroke="#000" stroke-width="1.6"/>
<circle cx="1120.65" cy="875.53" r="4.85" fill="none" stroke="#000" stroke-width="1.6"/>
<circle cx="1111.57" cy="888.63" r="4.85" fill="none" stroke="#000" stroke-width="1.6"/>
<circle cx="1117.62" cy="888.63" r="4.85" fill="none" stroke="#000" stroke-width="1.6"/>
<circle cx="1114.60" cy="901.72" r="4.85" fill="none" stroke="#000" stroke-width="1.6"/>
<circle cx="1114.60" cy="914.82" r="4.85" fill="none" stroke="#000" stroke-width="1.6"/>
<circle cx="1114.60" cy="927.92" r="4.85" fill="none" stroke="#000" stroke-width="1.6"/>
<circle cx="1114.60" cy="941.01" r="4.85" fill="none" stroke="#000" stroke-width="1.6"/>
<path d="M1114.60,836.20V895.50M1099.10,836.20h31.0M1099.10,895.50h31.0" stroke="#000" stroke-width="1.7" fill="none"/>
<path d="M1083.60,865.90h62.0" stroke="#000" stroke-width="2.9"/>
<circle cx="1208.60" cy="718.38" r="5.6" fill="#000"/>
<circle cx="1204.20" cy="757.67" r="5.6" fill="#000"/>
<circle cx="1213.00" cy="757.67" r="5.6" fill="#000"/>
<circle cx="1208.60" cy="796.96" r="5.6" fill="#000"/>
<circle cx="1204.20" cy="823.15" r="5.6" fill="#000"/>
<circle cx="1213.00" cy="823.15" r="5.6" fill="#000"/>
<circle cx="1195.40" cy="836.24" r="5.6" fill="#000"/>
<circle cx="1204.20" cy="836.24" r="5.6" fill="#000"/>
<circle cx="1213.00" cy="836.24" r="5.6" fill="#000"/>
<circle cx="1221.80" cy="836.24" r="5.6" fill="#000"/>
<circle cx="1182.20" cy="849.34" r="5.6" fill="#000"/>
<circle cx="1191.00" cy="849.34" r="5.6" fill="#000"/>
<circle cx="1199.80" cy="849.34" r="5.6" fill="#000"/>
<circle cx="1208.60" cy="849.34" r="5.6" fill="#000"/>
<circle cx="1217.40" cy="849.34" r="5.6" fill="#000"/>
<circle cx="1226.20" cy="849.34" r="5.6" fill="#000"/>
<circle cx="1235.00" cy="849.34" r="5.6" fill="#000"/>
<circle cx="1191.00" cy="862.44" r="5.6" fill="#000"/>
<circle cx="1199.80" cy="862.44" r="5.6" fill="#000"/>
<circle cx="1208.60" cy="862.44" r="5.6" fill="#000"/>
<circle cx="1217.40" cy="862.44" r="5.6" fill="#000"/>
<circle cx="1226.20" cy="862.44" r="5.6" fill="#000"/>
<circle cx="1204.20" cy="875.53" r="5.6" fill="#000"/>
<circle cx="1213.00" cy="875.53" r="5.6" fill="#000"/>
<circle cx="1208.60" cy="888.63" r="5.6" fill="#000"/>
<circle cx="1208.60" cy="927.92" r="5.6" fill="#000"/>
<path d="M1208.60,796.90V883.10M1193.10,796.90h31.0M1193.10,883.10h31.0" stroke="#000" stroke-width="1.7" fill="none"/>
<path d="M1177.60,840.10h62.0" stroke="#000" stroke-width="2.9"/>
<text class="dl" transform="translate(945.6,976.23) rotate(-90)">Δ</text>
<text class="yl" style="font-size:26.97px" transform="translate(947.5,947.68) rotate(-90)">Sadness-depression</text>
<text class="pv" x="1210.7" y="643.7"><tspan font-style="italic">P</tspan>=<tspan font-weight="bold">0.033</tspan></text>
</g>
<g>
<text class="lt" x="1359.9" y="600.6">H</text>
<path d="M1518.50,649.00V978.20M1504.70,978.20H1738.90" fill="none" stroke="#000" stroke-width="3.0" stroke-linecap="butt"/>
<path d="M1504.70,650.50H1518.50M1504.70,716.04H1518.50M1504.70,781.58H1518.50M1504.70,847.12H1518.50M1504.70,912.66H1518.50M1504.70,978.20H1518.50" stroke="#000" stroke-width="3.0"/>
<text class="tk" x="1500.9" y="659.1" text-anchor="end">30.00</text>
<text class="tk" x="1500.9" y="724.6" text-anchor="end">20.00</text>
<text class="tk" x="1500.9" y="790.2" text-anchor="end">10.00</text>
<text class="tk" x="1500.9" y="855.7" text-anchor="end">0.00</text>
<text class="tk" x="1500.9" y="921.3" text-anchor="end">-10.00</text>
<text class="tk" x="1500.9" y="986.8" text-anchor="end">-20.00</text>
<line x1="1528.40" y1="847.12" x2="1738.90" y2="847.12" stroke="#000" stroke-width="3" stroke-linecap="round" stroke-dasharray="0 9.89"/>
<circle cx="1580.60" cy="768.50" r="4.85" fill="none" stroke="#000" stroke-width="1.6"/>
<circle cx="1580.60" cy="781.70" r="4.85" fill="none" stroke="#000" stroke-width="1.6"/>
<circle cx="1559.20" cy="833.40" r="4.85" fill="none" stroke="#000" stroke-width="1.6"/>
<circle cx="1588.10" cy="833.40" r="4.85" fill="none" stroke="#000" stroke-width="1.6"/>
<circle cx="1564.30" cy="840.00" r="4.85" fill="none" stroke="#000" stroke-width="1.6"/>
<circle cx="1568.50" cy="839.60" r="4.85" fill="none" stroke="#000" stroke-width="1.6"/>
<circle cx="1578.20" cy="839.60" r="4.85" fill="none" stroke="#000" stroke-width="1.6"/>
<circle cx="1593.10" cy="839.60" r="4.85" fill="none" stroke="#000" stroke-width="1.6"/>
<circle cx="1554.30" cy="846.70" r="4.85" fill="none" stroke="#000" stroke-width="1.6"/>
<circle cx="1559.40" cy="846.70" r="4.85" fill="none" stroke="#000" stroke-width="1.6"/>
<circle cx="1568.70" cy="846.70" r="4.85" fill="none" stroke="#000" stroke-width="1.6"/>
<circle cx="1573.40" cy="846.70" r="4.85" fill="none" stroke="#000" stroke-width="1.6"/>
<circle cx="1584.70" cy="846.70" r="4.85" fill="none" stroke="#000" stroke-width="1.6"/>
<circle cx="1596.50" cy="846.70" r="4.85" fill="none" stroke="#000" stroke-width="1.6"/>
<circle cx="1602.30" cy="846.70" r="4.85" fill="none" stroke="#000" stroke-width="1.6"/>
<circle cx="1607.80" cy="846.70" r="4.85" fill="none" stroke="#000" stroke-width="1.6"/>
<circle cx="1568.00" cy="853.40" r="4.85" fill="none" stroke="#000" stroke-width="1.6"/>
<circle cx="1578.00" cy="853.50" r="4.85" fill="none" stroke="#000" stroke-width="1.6"/>
<circle cx="1593.50" cy="853.40" r="4.85" fill="none" stroke="#000" stroke-width="1.6"/>
<circle cx="1573.00" cy="860.20" r="4.85" fill="none" stroke="#000" stroke-width="1.6"/>
<circle cx="1585.60" cy="860.20" r="4.85" fill="none" stroke="#000" stroke-width="1.6"/>
<circle cx="1588.30" cy="860.20" r="4.85" fill="none" stroke="#000" stroke-width="1.6"/>
<circle cx="1578.40" cy="866.70" r="4.85" fill="none" stroke="#000" stroke-width="1.6"/>
<circle cx="1578.40" cy="879.60" r="4.85" fill="none" stroke="#000" stroke-width="1.6"/>
<circle cx="1583.10" cy="886.20" r="4.85" fill="none" stroke="#000" stroke-width="1.6"/>
<circle cx="1580.70" cy="905.60" r="4.85" fill="none" stroke="#000" stroke-width="1.6"/>
<path d="M1580.80,820.40V874.20M1565.30,820.40h31.0M1565.30,874.20h31.0" stroke="#000" stroke-width="1.7" fill="none"/>
<path d="M1549.80,846.70h62.0" stroke="#000" stroke-width="2.9"/>
<circle cx="1674.50" cy="683.40" r="5.6" fill="#000"/>
<circle cx="1674.50" cy="709.60" r="5.6" fill="#000"/>
<circle cx="1682.10" cy="833.50" r="5.6" fill="#000"/>
<circle cx="1672.20" cy="839.80" r="5.6" fill="#000"/>
<circle cx="1701.10" cy="840.10" r="5.6" fill="#000"/>
<circle cx="1654.50" cy="846.40" r="5.6" fill="#000"/>
<circle cx="1660.50" cy="846.40" r="5.6" fill="#000"/>
<circle cx="1666.50" cy="846.40" r="5.6" fill="#000"/>
<circle cx="1672.50" cy="846.40" r="5.6" fill="#000"/>
<circle cx="1678.50" cy="846.40" r="5.6" fill="#000"/>
<circle cx="1684.50" cy="846.40" r="5.6" fill="#000"/>
<circle cx="1689.00" cy="846.40" r="5.6" fill="#000"/>
<circle cx="1648.30" cy="853.50" r="5.6" fill="#000"/>
<circle cx="1695.00" cy="853.50" r="5.6" fill="#000"/>
<circle cx="1701.10" cy="853.50" r="5.6" fill="#000"/>
<circle cx="1662.50" cy="859.60" r="5.6" fill="#000"/>
<circle cx="1681.80" cy="859.60" r="5.6" fill="#000"/>
<circle cx="1674.20" cy="867.20" r="5.6" fill="#000"/>
<circle cx="1677.50" cy="866.00" r="5.6" fill="#000"/>
<circle cx="1667.30" cy="899.20" r="5.6" fill="#000"/>
<circle cx="1682.10" cy="905.60" r="5.6" fill="#000"/>
<circle cx="1667.10" cy="912.20" r="5.6" fill="#000"/>
<circle cx="1677.00" cy="912.40" r="5.6" fill="#000"/>
<path d="M1674.50,797.50V897.40M1659.00,797.50h31.0M1659.00,897.40h31.0" stroke="#000" stroke-width="1.7" fill="none"/>
<path d="M1643.50,846.70h62.0" stroke="#000" stroke-width="2.9"/>
<text class="dl" transform="translate(1410.6,938.53) rotate(-90)">Δ</text>
<text class="yl" style="font-size:26.36px" transform="translate(1414.0,907.56) rotate(-90)">Anger-hostility</text>
<text class="pv" x="1657.4" y="647.7"><tspan font-style="italic">P</tspan>=<tspan>0.401</tspan></text>
</g>
<g>
<text class="lt" x="3.8" y="1057.3">I</text>
<path d="M151.00,1093.30V1421.80M137.20,1421.80H371.40" fill="none" stroke="#000" stroke-width="3.0" stroke-linecap="butt"/>
<path d="M137.20,1094.80H151.00M137.20,1149.30H151.00M137.20,1203.80H151.00M137.20,1258.30H151.00M137.20,1312.80H151.00M137.20,1367.30H151.00M137.20,1421.80H151.00" stroke="#000" stroke-width="3.0"/>
<text class="tk" x="133.4" y="1103.4" text-anchor="end">20.00</text>
<text class="tk" x="133.4" y="1157.9" text-anchor="end">15.00</text>
<text class="tk" x="133.4" y="1212.4" text-anchor="end">10.00</text>
<text class="tk" x="133.4" y="1266.9" text-anchor="end">5.00</text>
<text class="tk" x="133.4" y="1321.4" text-anchor="end">0.00</text>
<text class="tk" x="133.4" y="1375.9" text-anchor="end">-5.00</text>
<text class="tk" x="133.4" y="1430.4" text-anchor="end">-10.00</text>
<line x1="160.90" y1="1312.80" x2="371.40" y2="1312.80" stroke="#000" stroke-width="3" stroke-linecap="round" stroke-dasharray="0 9.89"/>
<circle cx="213.20" cy="1149.30" r="4.85" fill="none" stroke="#000" stroke-width="1.6"/>
<circle cx="213.20" cy="1160.20" r="4.85" fill="none" stroke="#000" stroke-width="1.6"/>
<circle cx="213.20" cy="1203.80" r="4.85" fill="none" stroke="#000" stroke-width="1.6"/>
<circle cx="213.20" cy="1225.60" r="4.85" fill="none" stroke="#000" stroke-width="1.6"/>
<circle cx="213.20" cy="1269.20" r="4.85" fill="none" stroke="#000" stroke-width="1.6"/>
<circle cx="200.05" cy="1280.10" r="4.85" fill="none" stroke="#000" stroke-width="1.6"/>
<circle cx="213.20" cy="1280.10" r="4.85" fill="none" stroke="#000" stroke-width="1.6"/>
<circle cx="226.35" cy="1280.10" r="4.85" fill="none" stroke="#000" stroke-width="1.6"/>
<circle cx="200.05" cy="1291.00" r="4.85" fill="none" stroke="#000" stroke-width="1.6"/>
<circle cx="213.20" cy="1291.00" r="4.85" fill="none" stroke="#000" stroke-width="1.6"/>
<circle cx="226.35" cy="1291.00" r="4.85" fill="none" stroke="#000" stroke-width="1.6"/>
<circle cx="200.05" cy="1301.90" r="4.85" fill="none" stroke="#000" stroke-width="1.6"/>
<circle cx="213.20" cy="1301.90" r="4.85" fill="none" stroke="#000" stroke-width="1.6"/>
<circle cx="226.35" cy="1301.90" r="4.85" fill="none" stroke="#000" stroke-width="1.6"/>
<circle cx="186.90" cy="1312.80" r="4.85" fill="none" stroke="#000" stroke-width="1.6"/>
<circle cx="200.05" cy="1312.80" r="4.85" fill="none" stroke="#000" stroke-width="1.6"/>
<circle cx="213.20" cy="1312.80" r="4.85" fill="none" stroke="#000" stroke-width="1.6"/>
<circle cx="226.35" cy="1312.80" r="4.85" fill="none" stroke="#000" stroke-width="1.6"/>
<circle cx="239.50" cy="1312.80" r="4.85" fill="none" stroke="#000" stroke-width="1.6"/>
<circle cx="206.62" cy="1323.70" r="4.85" fill="none" stroke="#000" stroke-width="1.6"/>
<circle cx="219.77" cy="1323.70" r="4.85" fill="none" stroke="#000" stroke-width="1.6"/>
<circle cx="206.62" cy="1334.60" r="4.85" fill="none" stroke="#000" stroke-width="1.6"/>
<circle cx="219.77" cy="1334.60" r="4.85" fill="none" stroke="#000" stroke-width="1.6"/>
<circle cx="206.62" cy="1345.50" r="4.85" fill="none" stroke="#000" stroke-width="1.6"/>
<circle cx="219.77" cy="1345.50" r="4.85" fill="none" stroke="#000" stroke-width="1.6"/>
<circle cx="213.20" cy="1367.30" r="4.85" fill="none" stroke="#000" stroke-width="1.6"/>
<path d="M213.20,1237.90V1344.30M197.70,1237.90h31.0M197.70,1344.30h31.0" stroke="#000" stroke-width="1.7" fill="none"/>
<path d="M182.20,1290.80h62.0" stroke="#000" stroke-width="2.9"/>
<circle cx="306.70" cy="1171.10" r="5.6" fill="#000"/>
<circle cx="306.70" cy="1236.50" r="5.6" fill="#000"/>
<circle cx="306.70" cy="1247.40" r="5.6" fill="#000"/>
<circle cx="306.70" cy="1258.30" r="5.6" fill="#000"/>
<circle cx="296.15" cy="1269.20" r="5.6" fill="#000"/>
<circle cx="306.70" cy="1269.20" r="5.6" fill="#000"/>
<circle cx="317.25" cy="1269.20" r="5.6" fill="#000"/>
<circle cx="306.70" cy="1280.10" r="5.6" fill="#000"/>
<circle cx="301.43" cy="1301.90" r="5.6" fill="#000"/>
<circle cx="311.97" cy="1301.90" r="5.6" fill="#000"/>
<circle cx="280.32" cy="1312.80" r="5.6" fill="#000"/>
<circle cx="290.88" cy="1312.80" r="5.6" fill="#000"/>
<circle cx="301.43" cy="1312.80" r="5.6" fill="#000"/>
<circle cx="311.97" cy="1312.80" r="5.6" fill="#000"/>
<circle cx="322.52" cy="1312.80" r="5.6" fill="#000"/>
<circle cx="333.07" cy="1312.80" r="5.6" fill="#000"/>
<circle cx="285.60" cy="1323.70" r="5.6" fill="#000"/>
<circle cx="296.15" cy="1323.70" r="5.6" fill="#000"/>
<circle cx="306.70" cy="1323.70" r="5.6" fill="#000"/>
<circle cx="317.25" cy="1323.70" r="5.6" fill="#000"/>
<circle cx="327.80" cy="1323.70" r="5.6" fill="#000"/>
<circle cx="306.70" cy="1334.60" r="5.6" fill="#000"/>
<circle cx="301.43" cy="1345.50" r="5.6" fill="#000"/>
<circle cx="311.97" cy="1345.50" r="5.6" fill="#000"/>
<circle cx="306.70" cy="1356.40" r="5.6" fill="#000"/>
<circle cx="306.70" cy="1400.00" r="5.6" fill="#000"/>
<path d="M306.70,1257.90V1348.20M291.20,1257.90h31.0M291.20,1348.20h31.0" stroke="#000" stroke-width="1.7" fill="none"/>
<path d="M275.70,1303.20h62.0" stroke="#000" stroke-width="2.9"/>
<text class="dl" transform="translate(43.0,1330.23) rotate(-90)">Δ</text>
<text class="yl" style="font-size:26.38px" transform="translate(45.0,1305.46) rotate(-90)">Anxiety</text>
<text class="pv" x="300.6" y="1102.5"><tspan font-style="italic">P</tspan>=<tspan>0.486</tspan></text>
</g>
<g>
<text class="lt" x="452.7" y="1057.3">J</text>
<path d="M625.00,1093.00V1421.50M611.20,1421.50H845.40" fill="none" stroke="#000" stroke-width="3.0" stroke-linecap="butt"/>
<path d="M611.20,1094.50H625.00M611.20,1176.25H625.00M611.20,1258.00H625.00M611.20,1339.75H625.00M611.20,1421.50H625.00" stroke="#000" stroke-width="3.0"/>
<text class="tk" x="607.4" y="1103.1" text-anchor="end">20.00</text>
<text class="tk" x="607.4" y="1184.8" text-anchor="end">10.00</text>
<text class="tk" x="607.4" y="1266.6" text-anchor="end">0.00</text>
<text class="tk" x="607.4" y="1348.3" text-anchor="end">-10.00</text>
<text class="tk" x="607.4" y="1430.1" text-anchor="end">-20.00</text>
<line x1="634.90" y1="1258.00" x2="845.40" y2="1258.00" stroke="#000" stroke-width="3" stroke-linecap="round" stroke-dasharray="0 9.89"/>
<circle cx="687.40" cy="1192.10" r="4.85" fill="none" stroke="#000" stroke-width="1.6"/>
<circle cx="689.70" cy="1216.40" r="4.85" fill="none" stroke="#000" stroke-width="1.6"/>
<circle cx="684.60" cy="1224.60" r="4.85" fill="none" stroke="#000" stroke-width="1.6"/>
<circle cx="670.50" cy="1233.00" r="4.85" fill="none" stroke="#000" stroke-width="1.6"/>
<circle cx="689.10" cy="1233.00" r="4.85" fill="none" stroke="#000" stroke-width="1.6"/>
<circle cx="699.80" cy="1233.00" r="4.85" fill="none" stroke="#000" stroke-width="1.6"/>
<circle cx="695.00" cy="1241.50" r="4.85" fill="none" stroke="#000" stroke-width="1.6"/>
<circle cx="661.00" cy="1249.30" r="4.85" fill="none" stroke="#000" stroke-width="1.6"/>
<circle cx="666.00" cy="1249.30" r="4.85" fill="none" stroke="#000" stroke-width="1.6"/>
<circle cx="684.70" cy="1249.30" r="4.85" fill="none" stroke="#000" stroke-width="1.6"/>
<circle cx="689.50" cy="1249.30" r="4.85" fill="none" stroke="#000" stroke-width="1.6"/>
<circle cx="704.10" cy="1249.30" r="4.85" fill="none" stroke="#000" stroke-width="1.6"/>
<circle cx="709.10" cy="1249.30" r="4.85" fill="none" stroke="#000" stroke-width="1.6"/>
<circle cx="714.30" cy="1249.30" r="4.85" fill="none" stroke="#000" stroke-width="1.6"/>
<circle cx="670.30" cy="1258.00" r="4.85" fill="none" stroke="#000" stroke-width="1.6"/>
<circle cx="675.70" cy="1258.00" r="4.85" fill="none" stroke="#000" stroke-width="1.6"/>
<circle cx="684.70" cy="1258.00" r="4.85" fill="none" stroke="#000" stroke-width="1.6"/>
<circle cx="689.50" cy="1258.00" r="4.85" fill="none" stroke="#000" stroke-width="1.6"/>
<circle cx="699.50" cy="1258.00" r="4.85" fill="none" stroke="#000" stroke-width="1.6"/>
<circle cx="684.70" cy="1266.20" r="4.85" fill="none" stroke="#000" stroke-width="1.6"/>
<circle cx="689.50" cy="1266.20" r="4.85" fill="none" stroke="#000" stroke-width="1.6"/>
<circle cx="685.10" cy="1290.20" r="4.85" fill="none" stroke="#000" stroke-width="1.6"/>
<circle cx="690.00" cy="1290.20" r="4.85" fill="none" stroke="#000" stroke-width="1.6"/>
<circle cx="687.40" cy="1315.00" r="4.85" fill="none" stroke="#000" stroke-width="1.6"/>
<circle cx="685.10" cy="1339.60" r="4.85" fill="none" stroke="#000" stroke-width="1.6"/>
<circle cx="690.00" cy="1339.60" r="4.85" fill="none" stroke="#000" stroke-width="1.6"/>
<path d="M687.50,1224.60V1292.30M672.00,1224.60h31.0M672.00,1292.30h31.0" stroke="#000" stroke-width="1.7" fill="none"/>
<path d="M656.50,1258.10h62.0" stroke="#000" stroke-width="2.9"/>
<circle cx="781.50" cy="1135.50" r="5.6" fill="#000"/>
<circle cx="781.50" cy="1192.40" r="5.6" fill="#000"/>
<circle cx="781.50" cy="1216.30" r="5.6" fill="#000"/>
<circle cx="774.80" cy="1240.70" r="5.6" fill="#000"/>
<circle cx="781.50" cy="1240.70" r="5.6" fill="#000"/>
<circle cx="788.30" cy="1240.70" r="5.6" fill="#000"/>
<circle cx="768.00" cy="1249.40" r="5.6" fill="#000"/>
<circle cx="795.30" cy="1249.40" r="5.6" fill="#000"/>
<circle cx="775.00" cy="1257.60" r="5.6" fill="#000"/>
<circle cx="781.50" cy="1257.60" r="5.6" fill="#000"/>
<circle cx="788.30" cy="1257.60" r="5.6" fill="#000"/>
<circle cx="755.30" cy="1266.00" r="5.6" fill="#000"/>
<circle cx="761.70" cy="1266.00" r="5.6" fill="#000"/>
<circle cx="768.00" cy="1266.00" r="5.6" fill="#000"/>
<circle cx="801.40" cy="1266.00" r="5.6" fill="#000"/>
<circle cx="807.70" cy="1266.00" r="5.6" fill="#000"/>
<circle cx="775.00" cy="1274.30" r="5.6" fill="#000"/>
<circle cx="781.50" cy="1274.30" r="5.6" fill="#000"/>
<circle cx="788.30" cy="1274.30" r="5.6" fill="#000"/>
<circle cx="794.90" cy="1274.30" r="5.6" fill="#000"/>
<circle cx="768.00" cy="1282.50" r="5.6" fill="#000"/>
<circle cx="775.00" cy="1290.10" r="5.6" fill="#000"/>
<circle cx="781.50" cy="1290.10" r="5.6" fill="#000"/>
<circle cx="788.30" cy="1290.10" r="5.6" fill="#000"/>
<circle cx="781.50" cy="1332.00" r="5.6" fill="#000"/>
<path d="M781.60,1221.30V1294.40M766.10,1221.30h31.0M766.10,1294.40h31.0" stroke="#000" stroke-width="1.7" fill="none"/>
<path d="M750.60,1257.60h62.0" stroke="#000" stroke-width="2.9"/>
<text class="dl" transform="translate(516.7,1347.23) rotate(-90)">Δ</text>
<text class="yl" style="font-size:26.83px" transform="translate(519.8,1324.69) rotate(-90)">Happiness</text>
<text class="pv" x="734.8" y="1099.7"><tspan font-style="italic">P</tspan>=<tspan>0.950</tspan></text>
</g>
<g>
<text class="lt" x="886.7" y="1057.3">K</text>
<path d="M1052.90,1092.90V1421.30M1039.10,1421.30H1273.30" fill="none" stroke="#000" stroke-width="3.0" stroke-linecap="butt"/>
<path d="M1039.10,1094.40H1052.90M1039.10,1159.78H1052.90M1039.10,1225.16H1052.90M1039.10,1290.54H1052.90M1039.10,1355.92H1052.90M1039.10,1421.30H1052.90" stroke="#000" stroke-width="3.0"/>
<text class="tk" x="1035.3" y="1103.0" text-anchor="end">30.00</text>
<text class="tk" x="1035.3" y="1168.4" text-anchor="end">20.00</text>
<text class="tk" x="1035.3" y="1233.8" text-anchor="end">10.00</text>
<text class="tk" x="1035.3" y="1299.1" text-anchor="end">0.00</text>
<text class="tk" x="1035.3" y="1364.5" text-anchor="end">-10.00</text>
<text class="tk" x="1035.3" y="1429.9" text-anchor="end">-20.00</text>
<line x1="1062.80" y1="1290.54" x2="1273.30" y2="1290.54" stroke="#000" stroke-width="3" stroke-linecap="round" stroke-dasharray="0 9.89"/>
<circle cx="1115.20" cy="1127.20" r="4.85" fill="none" stroke="#000" stroke-width="1.6"/>
<circle cx="1115.20" cy="1192.40" r="4.85" fill="none" stroke="#000" stroke-width="1.6"/>
<circle cx="1115.20" cy="1212.00" r="4.85" fill="none" stroke="#000" stroke-width="1.6"/>
<circle cx="1115.20" cy="1231.50" r="4.85" fill="none" stroke="#000" stroke-width="1.6"/>
<circle cx="1115.20" cy="1244.40" r="4.85" fill="none" stroke="#000" stroke-width="1.6"/>
<circle cx="1106.60" cy="1257.50" r="4.85" fill="none" stroke="#000" stroke-width="1.6"/>
<circle cx="1097.70" cy="1264.00" r="4.85" fill="none" stroke="#000" stroke-width="1.6"/>
<circle cx="1115.20" cy="1270.30" r="4.85" fill="none" stroke="#000" stroke-width="1.6"/>
<circle cx="1124.00" cy="1270.30" r="4.85" fill="none" stroke="#000" stroke-width="1.6"/>
<circle cx="1141.50" cy="1270.30" r="4.85" fill="none" stroke="#000" stroke-width="1.6"/>
<circle cx="1097.80" cy="1277.30" r="4.85" fill="none" stroke="#000" stroke-width="1.6"/>
<circle cx="1106.60" cy="1277.30" r="4.85" fill="none" stroke="#000" stroke-width="1.6"/>
<circle cx="1089.00" cy="1283.90" r="4.85" fill="none" stroke="#000" stroke-width="1.6"/>
<circle cx="1115.20" cy="1283.90" r="4.85" fill="none" stroke="#000" stroke-width="1.6"/>
<circle cx="1124.00" cy="1283.90" r="4.85" fill="none" stroke="#000" stroke-width="1.6"/>
<circle cx="1141.50" cy="1283.90" r="4.85" fill="none" stroke="#000" stroke-width="1.6"/>
<circle cx="1097.80" cy="1290.50" r="4.85" fill="none" stroke="#000" stroke-width="1.6"/>
<circle cx="1106.60" cy="1290.50" r="4.85" fill="none" stroke="#000" stroke-width="1.6"/>
<circle cx="1132.50" cy="1290.50" r="4.85" fill="none" stroke="#000" stroke-width="1.6"/>
<circle cx="1089.00" cy="1297.10" r="4.85" fill="none" stroke="#000" stroke-width="1.6"/>
<circle cx="1141.50" cy="1297.10" r="4.85" fill="none" stroke="#000" stroke-width="1.6"/>
<circle cx="1106.60" cy="1303.70" r="4.85" fill="none" stroke="#000" stroke-width="1.6"/>
<circle cx="1115.20" cy="1303.70" r="4.85" fill="none" stroke="#000" stroke-width="1.6"/>
<circle cx="1124.00" cy="1303.70" r="4.85" fill="none" stroke="#000" stroke-width="1.6"/>
<circle cx="1132.70" cy="1303.70" r="4.85" fill="none" stroke="#000" stroke-width="1.6"/>
<circle cx="1115.20" cy="1337.00" r="4.85" fill="none" stroke="#000" stroke-width="1.6"/>
<path d="M1115.20,1228.80V1313.50M1099.70,1228.80h31.0M1099.70,1313.50h31.0" stroke="#000" stroke-width="1.7" fill="none"/>
<path d="M1084.20,1270.70h62.0" stroke="#000" stroke-width="2.9"/>
<circle cx="1217.90" cy="1224.70" r="5.6" fill="#000"/>
<circle cx="1208.80" cy="1231.30" r="5.6" fill="#000"/>
<circle cx="1217.90" cy="1237.80" r="5.6" fill="#000"/>
<circle cx="1199.80" cy="1244.30" r="5.6" fill="#000"/>
<circle cx="1208.80" cy="1251.10" r="5.6" fill="#000"/>
<circle cx="1217.90" cy="1251.10" r="5.6" fill="#000"/>
<circle cx="1191.40" cy="1264.30" r="5.6" fill="#000"/>
<circle cx="1200.00" cy="1264.30" r="5.6" fill="#000"/>
<circle cx="1208.80" cy="1264.30" r="5.6" fill="#000"/>
<circle cx="1217.90" cy="1264.30" r="5.6" fill="#000"/>
<circle cx="1226.70" cy="1264.30" r="5.6" fill="#000"/>
<circle cx="1200.20" cy="1276.90" r="5.6" fill="#000"/>
<circle cx="1217.90" cy="1283.50" r="5.6" fill="#000"/>
<circle cx="1226.40" cy="1283.50" r="5.6" fill="#000"/>
<circle cx="1200.20" cy="1290.20" r="5.6" fill="#000"/>
<circle cx="1208.80" cy="1290.20" r="5.6" fill="#000"/>
<circle cx="1182.60" cy="1303.60" r="5.6" fill="#000"/>
<circle cx="1200.20" cy="1303.60" r="5.6" fill="#000"/>
<circle cx="1208.80" cy="1303.60" r="5.6" fill="#000"/>
<circle cx="1191.40" cy="1310.20" r="5.6" fill="#000"/>
<circle cx="1217.90" cy="1310.20" r="5.6" fill="#000"/>
<circle cx="1226.40" cy="1310.20" r="5.6" fill="#000"/>
<circle cx="1235.50" cy="1310.20" r="5.6" fill="#000"/>
<circle cx="1209.10" cy="1316.50" r="5.6" fill="#000"/>
<circle cx="1209.10" cy="1342.70" r="5.6" fill="#000"/>
<circle cx="1209.10" cy="1408.20" r="5.6" fill="#000"/>
<path d="M1209.00,1245.90V1324.20M1193.50,1245.90h31.0M1193.50,1324.20h31.0" stroke="#000" stroke-width="1.7" fill="none"/>
<path d="M1178.00,1284.80h62.0" stroke="#000" stroke-width="2.9"/>
<text class="dl" transform="translate(942.5,1347.23) rotate(-90)">Δ</text>
<text class="yl" style="font-size:26.96px" transform="translate(947.2,1323.68) rotate(-90)">STAI State</text>
<text class="pv" x="1196.7" y="1099.3"><tspan font-style="italic">P</tspan>=<tspan>0.487</tspan></text>
</g>
<g>
<text class="lt" x="1360.7" y="1057.3">L</text>
<path d="M1519.80,1092.90V1421.30M1506.00,1421.30H1740.20" fill="none" stroke="#000" stroke-width="3.0" stroke-linecap="butt"/>
<path d="M1506.00,1094.40H1519.80M1506.00,1176.12H1519.80M1506.00,1257.85H1519.80M1506.00,1339.58H1519.80M1506.00,1421.30H1519.80" stroke="#000" stroke-width="3.0"/>
<text class="tk" x="1502.2" y="1103.0" text-anchor="end">10.00</text>
<text class="tk" x="1502.2" y="1184.7" text-anchor="end">5.00</text>
<text class="tk" x="1502.2" y="1266.4" text-anchor="end">0.00</text>
<text class="tk" x="1502.2" y="1348.2" text-anchor="end">-5.00</text>
<text class="tk" x="1502.2" y="1429.9" text-anchor="end">-10.00</text>
<line x1="1529.70" y1="1257.85" x2="1740.20" y2="1257.85" stroke="#000" stroke-width="3" stroke-linecap="round" stroke-dasharray="0 9.89"/>
<circle cx="1582.30" cy="1208.82" r="4.85" fill="none" stroke="#000" stroke-width="1.6"/>
<circle cx="1570.90" cy="1225.16" r="4.85" fill="none" stroke="#000" stroke-width="1.6"/>
<circle cx="1578.50" cy="1225.16" r="4.85" fill="none" stroke="#000" stroke-width="1.6"/>
<circle cx="1586.10" cy="1225.16" r="4.85" fill="none" stroke="#000" stroke-width="1.6"/>
<circle cx="1593.70" cy="1225.16" r="4.85" fill="none" stroke="#000" stroke-width="1.6"/>
<circle cx="1574.70" cy="1241.51" r="4.85" fill="none" stroke="#000" stroke-width="1.6"/>
<circle cx="1582.30" cy="1241.51" r="4.85" fill="none" stroke="#000" stroke-width="1.6"/>
<circle cx="1589.90" cy="1241.51" r="4.85" fill="none" stroke="#000" stroke-width="1.6"/>
<circle cx="1578.50" cy="1257.85" r="4.85" fill="none" stroke="#000" stroke-width="1.6"/>
<circle cx="1586.10" cy="1257.85" r="4.85" fill="none" stroke="#000" stroke-width="1.6"/>
<circle cx="1555.70" cy="1274.19" r="4.85" fill="none" stroke="#000" stroke-width="1.6"/>
<circle cx="1563.30" cy="1274.19" r="4.85" fill="none" stroke="#000" stroke-width="1.6"/>
<circle cx="1570.90" cy="1274.19" r="4.85" fill="none" stroke="#000" stroke-width="1.6"/>
<circle cx="1578.50" cy="1274.19" r="4.85" fill="none" stroke="#000" stroke-width="1.6"/>
<circle cx="1586.10" cy="1274.19" r="4.85" fill="none" stroke="#000" stroke-width="1.6"/>
<circle cx="1593.70" cy="1274.19" r="4.85" fill="none" stroke="#000" stroke-width="1.6"/>
<circle cx="1601.30" cy="1274.19" r="4.85" fill="none" stroke="#000" stroke-width="1.6"/>
<circle cx="1608.90" cy="1274.19" r="4.85" fill="none" stroke="#000" stroke-width="1.6"/>
<circle cx="1578.50" cy="1290.54" r="4.85" fill="none" stroke="#000" stroke-width="1.6"/>
<circle cx="1586.10" cy="1290.54" r="4.85" fill="none" stroke="#000" stroke-width="1.6"/>
<circle cx="1578.50" cy="1306.88" r="4.85" fill="none" stroke="#000" stroke-width="1.6"/>
<circle cx="1586.10" cy="1306.88" r="4.85" fill="none" stroke="#000" stroke-width="1.6"/>
<circle cx="1582.30" cy="1323.23" r="4.85" fill="none" stroke="#000" stroke-width="1.6"/>
<circle cx="1578.50" cy="1339.58" r="4.85" fill="none" stroke="#000" stroke-width="1.6"/>
<circle cx="1586.10" cy="1339.58" r="4.85" fill="none" stroke="#000" stroke-width="1.6"/>
<circle cx="1582.30" cy="1388.61" r="4.85" fill="none" stroke="#000" stroke-width="1.6"/>
<path d="M1582.30,1231.90V1316.40M1566.80,1231.90h31.0M1566.80,1316.40h31.0" stroke="#000" stroke-width="1.7" fill="none"/>
<path d="M1551.30,1273.70h62.0" stroke="#000" stroke-width="2.9"/>
<circle cx="1676.10" cy="1159.78" r="5.6" fill="#000"/>
<circle cx="1676.10" cy="1192.47" r="5.6" fill="#000"/>
<circle cx="1676.10" cy="1208.82" r="5.6" fill="#000"/>
<circle cx="1669.52" cy="1225.16" r="5.6" fill="#000"/>
<circle cx="1682.67" cy="1225.16" r="5.6" fill="#000"/>
<circle cx="1656.38" cy="1241.51" r="5.6" fill="#000"/>
<circle cx="1669.52" cy="1241.51" r="5.6" fill="#000"/>
<circle cx="1682.67" cy="1241.51" r="5.6" fill="#000"/>
<circle cx="1695.82" cy="1241.51" r="5.6" fill="#000"/>
<circle cx="1649.80" cy="1257.85" r="5.6" fill="#000"/>
<circle cx="1662.95" cy="1257.85" r="5.6" fill="#000"/>
<circle cx="1676.10" cy="1257.85" r="5.6" fill="#000"/>
<circle cx="1689.25" cy="1257.85" r="5.6" fill="#000"/>
<circle cx="1702.40" cy="1257.85" r="5.6" fill="#000"/>
<circle cx="1656.38" cy="1274.19" r="5.6" fill="#000"/>
<circle cx="1669.52" cy="1274.19" r="5.6" fill="#000"/>
<circle cx="1682.67" cy="1274.19" r="5.6" fill="#000"/>
<circle cx="1695.82" cy="1274.19" r="5.6" fill="#000"/>
<circle cx="1649.80" cy="1290.54" r="5.6" fill="#000"/>
<circle cx="1662.95" cy="1290.54" r="5.6" fill="#000"/>
<circle cx="1676.10" cy="1290.54" r="5.6" fill="#000"/>
<circle cx="1689.25" cy="1290.54" r="5.6" fill="#000"/>
<circle cx="1702.40" cy="1290.54" r="5.6" fill="#000"/>
<circle cx="1676.10" cy="1306.88" r="5.6" fill="#000"/>
<circle cx="1676.10" cy="1323.23" r="5.6" fill="#000"/>
<circle cx="1676.10" cy="1339.58" r="5.6" fill="#000"/>
<path d="M1676.10,1221.30V1300.50M1660.60,1221.30h31.0M1660.60,1300.50h31.0" stroke="#000" stroke-width="1.7" fill="none"/>
<path d="M1645.10,1260.90h62.0" stroke="#000" stroke-width="2.9"/>
<text class="dl" transform="translate(1414.6,1346.73) rotate(-90)">Δ</text>
<text class="yl" style="font-size:27.22px" transform="translate(1414.3,1319.78) rotate(-90)">STAI Trait</text>
<text class="pv" x="1643.8" y="1103.3"><tspan font-style="italic">P</tspan>=<tspan>0.330</tspan></text>
</g>
</svg></body></html>
